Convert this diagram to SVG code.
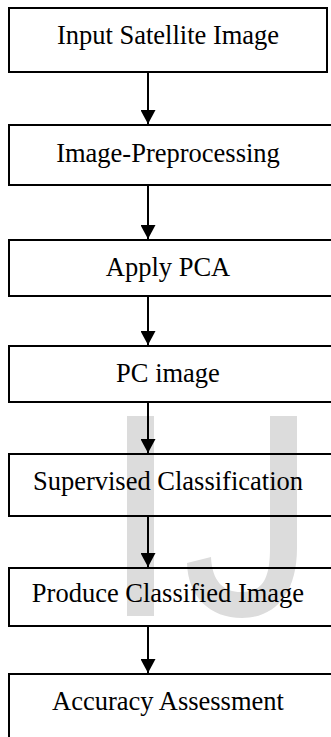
<svg xmlns="http://www.w3.org/2000/svg" width="331" height="737" viewBox="0 0 331 737">
  <style>
    .box { fill: none; stroke: #000; stroke-width: 2; }
    .label { font-family: "Liberation Serif", "Times New Roman", serif; font-size: 26.5px; fill: #000; text-anchor: middle; }
    .link { stroke: #000; stroke-width: 2; fill: none; }
    .mark { fill: #dcdcdc; }
  </style>
  <defs>
    <marker id="arrow" markerWidth="14" markerHeight="15" refX="14" refY="7.5" orient="auto" markerUnits="userSpaceOnUse" viewBox="0 0 14 15">
      <path d="M0,0 L14,7.5 L0,15 Z" fill="#000"/>
    </marker>
  </defs>

  <rect width="331" height="737" fill="#fff"/>

  <!-- faint background lettering -->
  <g id="watermark">
    <rect class="mark" x="127" y="416" width="27" height="200"/>
    <path class="mark" d="M270,416 H297 V548 C297,596 273,618 242,618 C210,618 188,597 187,563 L211,557 C212,582 224,592 241,592 C262,592 270,580 270,548 Z"/>
  </g>

  <g id="connectors">
    <line class="link" x1="148" y1="72" x2="148" y2="124" marker-end="url(#arrow)"/>
    <line class="link" x1="148" y1="185" x2="148" y2="239" marker-end="url(#arrow)"/>
    <line class="link" x1="148" y1="296" x2="148" y2="345" marker-end="url(#arrow)"/>
    <line class="link" x1="148" y1="402" x2="148" y2="453" marker-end="url(#arrow)"/>
    <line class="link" x1="148" y1="516" x2="148" y2="567" marker-end="url(#arrow)"/>
    <line class="link" x1="148" y1="626" x2="148" y2="673" marker-end="url(#arrow)"/>
  </g>

  <g id="input">
    <rect class="box" x="9" y="8" width="318" height="64"/>
    <text class="label" x="168" y="43.5">Input Satellite Image</text>
  </g>
  <g id="preprocessing">
    <rect class="box" x="9" y="125" width="330" height="60"/>
    <text class="label" x="168" y="161.5">Image-Preprocessing</text>
  </g>
  <g id="pca">
    <rect class="box" x="9" y="240" width="330" height="56"/>
    <text class="label" x="168" y="276">Apply PCA</text>
  </g>
  <g id="pc-image">
    <rect class="box" x="9" y="346" width="330" height="56"/>
    <text class="label" x="168" y="381.5">PC image</text>
  </g>
  <g id="classification">
    <rect class="box" x="9" y="454" width="330" height="62"/>
    <text class="label" x="168" y="490">Supervised Classification</text>
  </g>
  <g id="classified-image">
    <rect class="box" x="9" y="568" width="330" height="58"/>
    <text class="label" x="168" y="601.5">Produce Classified Image</text>
  </g>
  <g id="accuracy">
    <rect class="box" x="9" y="674" width="330" height="80"/>
    <text class="label" x="168" y="710">Accuracy Assessment</text>
  </g>
</svg>
